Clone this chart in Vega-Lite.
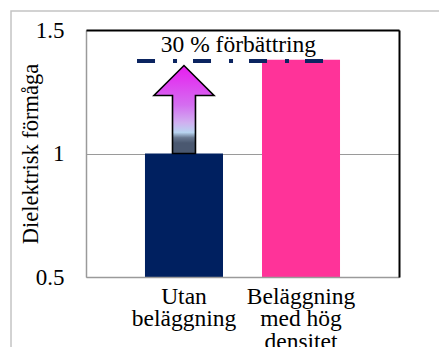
{
  "$schema": "https://vega.github.io/schema/vega-lite/v6.json",
  "width": 313,
  "height": 247,
  "autosize": {"type": "none"},
  "padding": {"left": 86, "top": 30, "right": 40, "bottom": 70},
  "background": "white",
  "config": {
    "font": "Liberation Serif",
    "axis": {"labelFont": "Liberation Serif", "titleFont": "Liberation Serif"},
    "text": {"font": "Liberation Serif"},
    "view": {"stroke": null}
  },
  "datasets": {
    "staplar": [
      {"kategori": "Utan beläggning", "formaga": 1.0},
      {"kategori": "Beläggning med hög densitet", "formaga": 1.38}
    ],
    "pil": [{"kategori": "Utan beläggning", "mitt": 1.178}],
    "linje": [{"start": 0.163, "slut": 0.776, "niva": 1.375}],
    "text": [{"x": 0.487, "y": 1.409, "etikett": "30 % förbättring"}],
    "ram": [{"x1": -0.2396, "x2": 1.6, "y1": 1.577, "y2": -1}]
  },
  "layer": [
    {
      "encoding": {
        "x": {
          "field": "kategori",
          "type": "nominal",
          "sort": ["Utan beläggning", "Beläggning med hög densitet"],
          "scale": {"paddingInner": 0.3333, "paddingOuter": 0.504},
          "axis": {
            "title": null,
            "labelAngle": 0,
            "ticks": false,
            "labelFont": "Liberation Serif",
            "labelFontSize": 23.5,
            "labelLineHeight": 22.5,
            "labelColor": "black",
            "labelPadding": 7,
            "labelDx": 3,
            "domainColor": "#9a9a9a",
            "domainWidth": 1.5,
            "zindex": 1,
            "labelExpr": "datum.label == 'Utan beläggning' ? ['Utan', 'beläggning'] : ['Beläggning', 'med hög', 'densitet']"
          }
        }
      },
      "layer": [
        {
          "data": {"name": "staplar"},
          "mark": {"type": "bar"},
          "encoding": {
            "y": {
              "field": "formaga",
              "type": "quantitative",
              "scale": {"domain": [0.5, 1.5], "nice": false, "zero": false},
              "axis": {
                "title": "Dielektrisk förmåga",
                "values": [0.5, 1, 1.5],
                "format": ".1~f",
                "ticks": false,
                "tickSize": 0,
                "labelPadding": 22,
                "labelFont": "Liberation Serif",
                "labelFontSize": 23,
                "labelColor": "black",
                "domainColor": "#9a9a9a",
                "domainWidth": 1.5,
                "gridColor": "#9a9a9a",
                "gridWidth": 1,
                "titleFont": "Liberation Serif",
                "titleFontSize": 22.5,
                "titleFontWeight": "normal",
                "titleColor": "black",
                "titleX": -49,
                "titleBaseline": "alphabetic"
              }
            },
            "y2": {"datum": 0.5},
            "color": {
              "field": "kategori",
              "type": "nominal",
              "scale": {
                "domain": ["Utan beläggning", "Beläggning med hög densitet"],
                "range": ["#002060", "#ff3399"]
              },
              "legend": null
            }
          }
        },
        {
          "data": {"name": "pil"},
          "mark": {
            "type": "point",
            "shape": "M -0.261 1 L -0.261 -0.318 L -0.682 -0.318 L 0 -1 L 0.682 -0.318 L 0.261 -0.318 L 0.261 1 Z",
            "size": 7744,
            "filled": true,
            "opacity": 1,
            "fill": {
              "gradient": "linear",
              "x1": 0, "y1": 0, "x2": 0, "y2": 1,
              "stops": [
                {"offset": 0, "color": "#e81cf0"},
                {"offset": 0.45, "color": "#d46ef0"},
                {"offset": 0.65, "color": "#d0b0f0"},
                {"offset": 0.76, "color": "#b8d4f0"},
                {"offset": 0.82, "color": "#687890"},
                {"offset": 0.88, "color": "#4a5870"},
                {"offset": 1, "color": "#4a5870"}
              ]
            },
            "stroke": "black",
            "strokeWidth": 1.6
          },
          "encoding": {
            "y": {"field": "mitt", "type": "quantitative"}
          }
        }
      ]
    },
    {
      "data": {"name": "linje"},
      "mark": {"type": "rule", "color": "#0b2460", "strokeWidth": 4, "strokeDash": [18, 18, 4, 16]},
      "encoding": {
        "x": {
          "field": "start", "type": "quantitative",
          "scale": {"domain": [0, 1], "nice": false, "zero": false},
          "axis": {"orient": "top", "title": null, "labels": false, "ticks": false, "grid": false, "domainColor": "black", "domainWidth": 2, "zindex": 1}
        },
        "x2": {"field": "slut"},
        "y": {"field": "niva", "type": "quantitative", "scale": {"domain": [0.5, 1.5], "nice": false, "zero": false}, "axis": null}
      }
    },
    {
      "data": {"name": "text"},
      "mark": {"type": "text", "font": "Liberation Serif", "fontSize": 23.5, "align": "center", "baseline": "alphabetic", "color": "black"},
      "encoding": {
        "x": {"field": "x", "type": "quantitative", "scale": {"domain": [0, 1], "nice": false, "zero": false}, "axis": null},
        "y": {
          "field": "y", "type": "quantitative",
          "scale": {"domain": [0.5, 1.5], "nice": false, "zero": false},
          "axis": {"orient": "right", "title": null, "labels": false, "ticks": false, "grid": false, "domainColor": "black", "domainWidth": 2, "zindex": 1}
        },
        "text": {"field": "etikett"}
      }
    },
    {
      "data": {"name": "ram"},
      "mark": {"type": "rect", "fill": null, "filled": false, "stroke": "#c4c4c4", "strokeWidth": 1.5},
      "encoding": {
        "x": {"field": "x1", "type": "quantitative", "scale": {"domain": [0, 1], "nice": false, "zero": false}, "axis": null},
        "x2": {"field": "x2"},
        "y": {"field": "y1", "type": "quantitative", "scale": {"domain": [0.5, 1.5], "nice": false, "zero": false}, "axis": null},
        "y2": {"field": "y2"}
      }
    }
  ],
  "resolve": {"scale": {"x": "independent", "y": "independent"}}
}
